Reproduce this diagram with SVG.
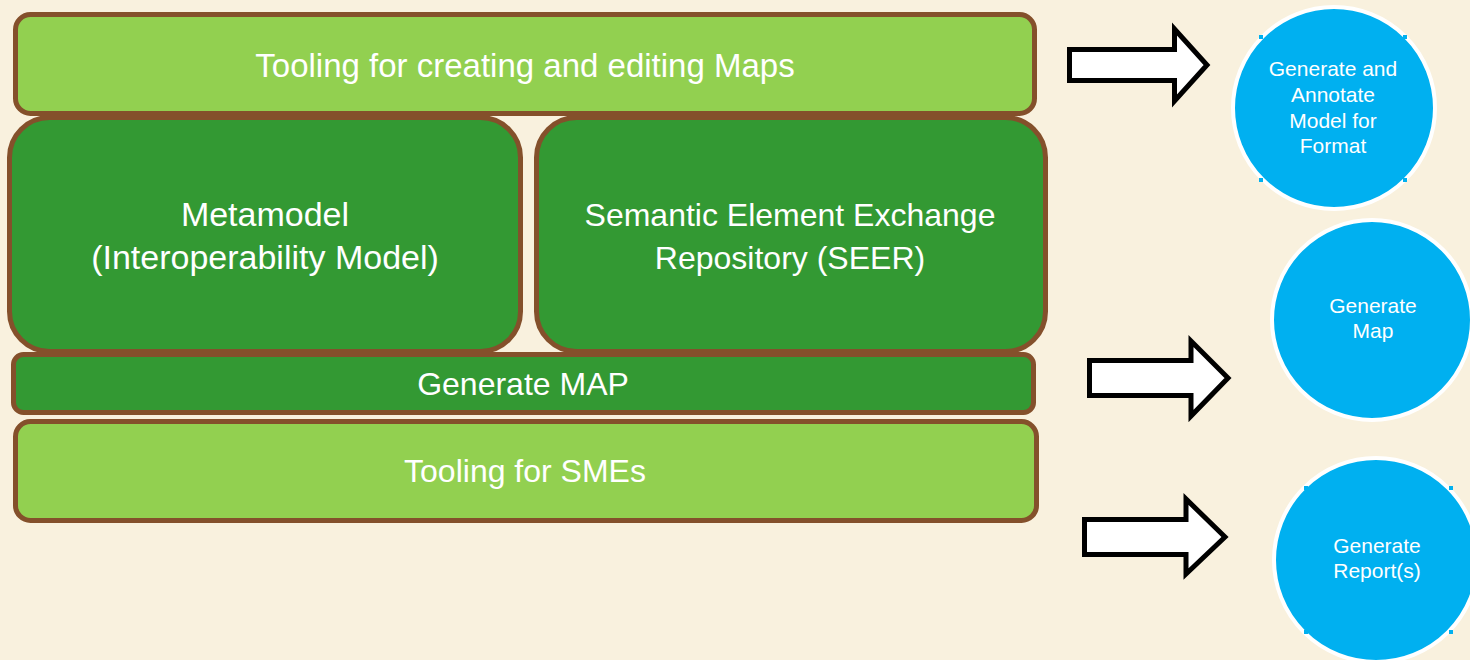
<svg xmlns="http://www.w3.org/2000/svg" width="1470" height="660" viewBox="0 0 1470 660">
<style>
.box{stroke:#84502B;stroke-width:5}
.light{fill:#92D050}
.dark{fill:#339933}
.lbl{font-family:"Liberation Sans",Arial,sans-serif;font-size:32px;fill:#FFFFFF;text-anchor:middle}
.big{font-size:34px}
.top{font-size:33px}
.clbl{font-family:"Liberation Sans",Arial,sans-serif;font-size:21px;fill:#FFFFFF;text-anchor:middle}
.circ{fill:#00B0F0;stroke:#FFFFFF;stroke-width:4}
.arrow{fill:#FFFFFF;stroke:#000000;stroke-width:5;stroke-linejoin:miter}
.handle{fill:#00B0F0}
</style>
<rect x="0" y="0" width="1470" height="660" fill="#F9F1DE"/>
<g id="metamodel">
<rect class="box dark" x="9.5" y="117.5" width="511" height="234" rx="40"/>
<text class="lbl big" x="265" y="226">Metamodel</text>
<text class="lbl big" x="265" y="269">(Interoperability Model)</text>
</g>
<g id="seer">
<rect class="box dark" x="536.5" y="117.5" width="509" height="234" rx="40"/>
<text class="lbl" x="790" y="226">Semantic Element Exchange</text>
<text class="lbl" x="790" y="269">Repository (SEER)</text>
</g>
<g id="tooling-maps">
<rect class="box light" x="15.5" y="14.5" width="1019" height="99" rx="15"/>
<text class="lbl top" x="525" y="77">Tooling for creating and editing Maps</text>
</g>
<g id="generate-map-bar">
<rect class="box dark" x="13.5" y="354.5" width="1020" height="58" rx="10"/>
<text class="lbl" x="523" y="395">Generate MAP</text>
</g>
<g id="tooling-smes">
<rect class="box light" x="15.5" y="421.5" width="1021" height="99" rx="15"/>
<text class="lbl" x="525" y="482">Tooling for SMEs</text>
</g>
<g id="connectors">
<polygon class="arrow" points="1069.5,49.5 1174.5,49.5 1174.5,29 1207,65 1174.5,101 1174.5,80.5 1069.5,80.5"/>
<polygon class="arrow" points="1089.5,360.5 1191,360.5 1191,341 1228,378 1191,416 1191,395.5 1089.5,395.5"/>
<polygon class="arrow" points="1084.5,519.5 1186,519.5 1186,499 1225,537 1186,574 1186,554.5 1084.5,554.5"/>
</g>
<g id="circle-annotate">
<circle class="circ" cx="1334" cy="108" r="101"/>
<rect class="handle" x="1259" y="35" width="4" height="4"/>
<rect class="handle" x="1403" y="35" width="4" height="4"/>
<rect class="handle" x="1259" y="178" width="4" height="4"/>
<rect class="handle" x="1403" y="178" width="4" height="4"/>
<text class="clbl" x="1333" y="76">Generate and</text>
<text class="clbl" x="1333" y="102">Annotate</text>
<text class="clbl" x="1333" y="128">Model for</text>
<text class="clbl" x="1333" y="153">Format</text>
</g>
<g id="circle-map">
<circle class="circ" cx="1372" cy="320" r="100"/>
<text class="clbl" x="1373" y="313">Generate</text>
<text class="clbl" x="1373" y="338">Map</text>
</g>
<g id="circle-report">
<circle class="circ" cx="1376" cy="560" r="102"/>
<rect class="handle" x="1304" y="486" width="4" height="4"/>
<rect class="handle" x="1449" y="486" width="4" height="4"/>
<rect class="handle" x="1304" y="630" width="4" height="4"/>
<rect class="handle" x="1449" y="630" width="4" height="4"/>
<text class="clbl" x="1377" y="553">Generate</text>
<text class="clbl" x="1377" y="578">Report(s)</text>
</g>
</svg>
